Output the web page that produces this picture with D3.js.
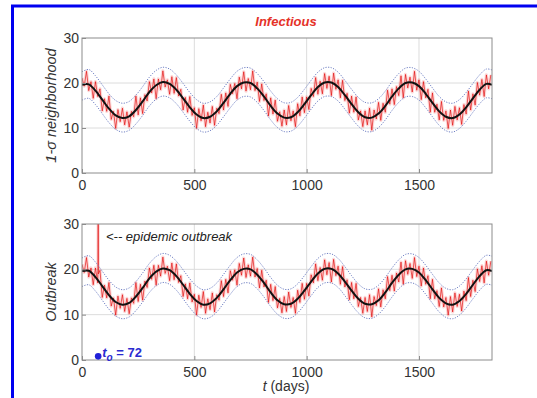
<!DOCTYPE html>
<html><head><meta charset="utf-8">
<script src="https://cdn.jsdelivr.net/npm/d3@7"></script>
<style>
body{margin:0;background:#fff}
svg{display:block}
text{font-family:Arial,"Liberation Sans",Helvetica,sans-serif}
</style>
</head><body>
<svg id="c" width="537" height="398"></svg>
<script>
// ---------- data ----------
const xTicks = [0, 500, 1000, 1500];
const yTicks = [0, 10, 20, 30];
const xMax = 1825;
const yMax = 30;

// noisy simulated infectious count, sampled every 10 days (t = 0..1820)
const redStep = 10;
const redValues = [
21.1,19.3,22.6,18.3,20.3,16.6,20.3,17.0,18.7,13.8,
16.5,13.7,17.1,11.9,13.7,9.9,14.1,11.4,14.4,10.7,
13.6,10.2,13.7,12.5,17.1,12.9,16.7,13.2,17.4,16.0,
20.3,17.8,20.9,16.5,20.9,18.5,22.7,19.1,20.7,17.5,
21.4,17.7,21.2,17.1,18.6,14.0,16.8,13.5,17.0,12.8,
14.5,9.9,14.3,11.6,15.1,10.3,13.5,11.1,14.8,10.6,
14.4,13.2,17.5,14.0,17.8,14.8,19.7,17.6,19.9,16.5,
21.3,18.7,22.5,18.2,21.0,18.5,22.7,18.3,20.2,15.9,
19.8,16.1,17.6,12.7,16.7,13.1,16.2,11.5,13.6,10.4,
14.0,10.7,15.0,11.6,13.8,10.3,15.4,12.7,16.9,13.4,
16.9,14.1,18.8,17.0,21.2,17.5,20.4,17.6,22.1,18.8,
21.5,17.2,22.2,18.6,20.7,16.7,20.6,16.1,17.7,13.3,
17.1,13.5,16.9,11.8,13.8,10.3,13.8,10.7,14.4,9.5,
14.0,12.0,15.7,11.7,15.5,13.5,18.4,15.3,18.7,15.2,
19.2,17.2,21.6,16.7,21.9,18.9,21.3,18.0,22.6,18.4,
20.7,16.3,20.3,16.7,18.6,13.5,17.8,13.5,15.3,11.8,
15.9,11.7,13.8,9.9,14.0,10.6,14.8,11.8,14.5,10.8,
15.2,13.1,18.2,14.0,17.6,15.1,20.1,17.3,20.8,17.0,
21.8,18.7,21.8
];

// mean and 1-sigma band, sampled every 30 days (t = 0..1800) plus t = 1825
const meanDays = d3.range(0, 1801, 30).concat([1825]);
const meanValues = [
19.6,19.7,18.3,16.3,14.3,12.8,12.2,12.6,14.0,15.9,
18.0,19.5,20.2,19.8,18.5,16.6,14.6,13.0,12.2,12.5,
13.7,15.6,17.6,19.3,20.1,20.0,18.8,17.0,14.9,13.2,
12.3,12.4,13.5,15.3,17.3,19.1,20.1,20.1,19.1,17.3,
15.3,13.5,12.4,12.3,13.2,14.9,17.0,18.8,20.0,20.1,
19.3,17.6,15.6,13.7,12.5,12.2,13.0,14.6,16.6,18.5,
19.8,19.6
];
const upperValues = [
22.5,23.0,21.6,19.6,17.6,16.1,15.5,15.9,17.3,19.2,
21.3,22.8,23.5,23.1,21.8,19.9,17.9,16.3,15.5,15.8,
17.0,18.9,20.9,22.6,23.4,23.3,22.1,20.3,18.2,16.5,
15.6,15.7,16.8,18.6,20.6,22.4,23.4,23.4,22.4,20.6,
18.6,16.8,15.7,15.6,16.5,18.2,20.3,22.1,23.3,23.4,
22.6,20.9,18.9,17.0,15.8,15.5,16.3,17.9,19.9,21.8,
23.1,22.9
];
const lowerValues = [
16.2,16.6,15.2,13.2,11.2,9.7,9.1,9.5,10.9,12.8,
14.9,16.4,17.1,16.7,15.4,13.5,11.5,9.9,9.1,9.4,
10.6,12.5,14.5,16.2,17.0,16.9,15.7,13.9,11.8,10.1,
9.2,9.3,10.4,12.2,14.2,16.0,17.0,17.0,16.0,14.2,
12.2,10.4,9.3,9.2,10.1,11.8,13.9,15.7,16.9,17.0,
16.2,14.5,12.5,10.6,9.4,9.1,9.9,11.5,13.5,15.4,
16.7,16.5
];

// outbreak
const outbreakDay = 72;
const outbreakSpike = [[70, 17.0], [71, 20.5], [72, 31], [73, 19.0], [80, 19.8]];
const outbreakMarker = [72, 0.8];

const titleText = "Infectious";
const panelLabels = ["1-\u03c3 neighborhood", "Outbreak"];
const annotationText = "<-- epidemic outbreak";

// ---------- drawing ----------
const svg = d3.select("#c");
svg.append("rect").attr("width", 537).attr("height", 398).attr("fill", "#fff");
svg.append("rect").attr("x", 12.5).attr("y", 6).attr("width", 700).attr("height", 600)
  .attr("fill", "none").attr("stroke", "#0000f0").attr("stroke-width", 3);

const x = d3.scaleLinear().domain([0, xMax]).range([82, 492]);

const redSeries = redValues.map((v, i) => [i * redStep, v]);
const redSeriesOutbreak = redSeries.filter(d => d[0] < 70 || d[0] > 80)
  .concat(outbreakSpike).sort((a, b) => a[0] - b[0]);

const panels = [
  {top: 38, bottom: 173, label: panelLabels[0], red: redSeries, outbreak: false},
  {top: 224, bottom: 360, label: panelLabels[1], red: redSeriesOutbreak, outbreak: true}
];

svg.append("text").attr("x", 286).attr("y", 26).attr("text-anchor", "middle")
  .attr("font-size", 13).attr("font-style", "italic").attr("font-weight", "bold")
  .attr("fill", "#e53228").text(titleText);

panels.forEach((p, pi) => {
  const y = d3.scaleLinear().domain([0, yMax]).range([p.bottom, p.top]);
  const g = svg.append("g");
  const clipId = "clip" + pi;
  svg.append("clipPath").attr("id", clipId).append("rect")
    .attr("x", x(0)).attr("y", y(yMax)).attr("width", x(xMax) - x(0)).attr("height", y(0) - y(yMax));

  // grid
  g.selectAll(".gx").data(xTicks.filter(t => t > 0)).enter().append("line")
    .attr("x1", d => x(d)).attr("x2", d => x(d)).attr("y1", y(0)).attr("y2", y(yMax))
    .attr("stroke", "#dcdcdc").attr("stroke-width", 1);
  g.selectAll(".gy").data(yTicks.filter(t => t > 0 && t < yMax)).enter().append("line")
    .attr("x1", x(0)).attr("x2", x(xMax)).attr("y1", d => y(d)).attr("y2", d => y(d))
    .attr("stroke", "#dcdcdc").attr("stroke-width", 1);

  const plot = g.append("g").attr("clip-path", `url(#${clipId})`);
  const line = d3.line().x(d => x(d[0])).y(d => y(d[1]));

  // noisy red: soft haze + thin spikes
  plot.append("path").datum(p.red).attr("d", line)
    .attr("fill", "none").attr("stroke", "#f04a4a").attr("stroke-width", 3.2).attr("opacity", 0.22)
    .attr("stroke-linejoin", "round");
  plot.append("path").datum(p.red).attr("d", line)
    .attr("fill", "none").attr("stroke", "#e00000").attr("stroke-width", 0.7).attr("opacity", 0.9);

  // bands
  const smooth = d3.line().x(d => x(d[0])).y(d => y(d[1])).curve(d3.curveCatmullRom);
  [upperValues, lowerValues].forEach(arr => {
    plot.append("path").datum(arr.map((v, i) => [meanDays[i], v])).attr("d", smooth)
      .attr("fill", "none").attr("stroke", "#7080c4").attr("stroke-width", 1)
      .attr("stroke-dasharray", "1.2,1.4");
  });
  // mean
  plot.append("path").datum(meanValues.map((v, i) => [meanDays[i], v])).attr("d", smooth)
    .attr("fill", "none").attr("stroke", "#111").attr("stroke-width", 2);

  // frame
  g.append("rect").attr("x", x(0)).attr("y", y(yMax)).attr("width", x(xMax) - x(0))
    .attr("height", y(0) - y(yMax)).attr("fill", "none").attr("stroke", "#8c8c8c").attr("stroke-width", 1);

  // axes
  const ax = g.append("g").attr("transform", `translate(0,${y(0)})`)
    .call(d3.axisBottom(x).tickValues(xTicks).tickSizeInner(-4).tickSizeOuter(0).tickPadding(7).tickFormat(d3.format("d")));
  const ay = g.append("g").attr("transform", `translate(${x(0)},0)`)
    .call(d3.axisLeft(y).tickValues(yTicks).tickSizeInner(-4).tickSizeOuter(0).tickPadding(3).tickFormat(d3.format("d")));
  [ax, ay].forEach(a => {
    a.select(".domain").remove();
    a.selectAll(".tick line").attr("stroke", "#8c8c8c");
    a.selectAll(".tick text").attr("font-size", 14).attr("fill", "#333")
      .attr("font-family", "Arial, 'Liberation Sans', sans-serif");
  });

  // y label
  svg.append("text").attr("transform", `translate(56,${(p.top + p.bottom) / 2}) rotate(-90)`)
    .attr("text-anchor", "middle").attr("font-size", 14.5).attr("font-style", "italic")
    .attr("fill", "#333").text(p.label);

  if (p.outbreak) {
    svg.append("text").attr("x", 106).attr("y", y(26.2)).attr("font-size", 13)
      .attr("font-style", "italic").attr("fill", "#222").text(annotationText);
    svg.append("circle").attr("cx", x(outbreakMarker[0])).attr("cy", y(outbreakMarker[1]))
      .attr("r", 3.3).attr("fill", "#2020d8");
    const t = svg.append("text").attr("x", x(outbreakMarker[0]) + 4).attr("y", y(outbreakMarker[1]) + 1)
      .attr("font-size", 13).attr("font-weight", "bold").attr("fill", "#2a2ad0");
    t.append("tspan").attr("font-style", "italic").text("t");
    t.append("tspan").attr("font-style", "italic").attr("font-size", 10).attr("dy", 4).text("o");
    t.append("tspan").attr("dy", -4).text(" = " + outbreakDay);
  }
});

// x label
const xl = svg.append("text").attr("x", 286).attr("y", 391).attr("text-anchor", "middle")
  .attr("font-size", 14).attr("fill", "#333");
xl.append("tspan").attr("font-style", "italic").text("t");
xl.append("tspan").text(" (days)");
</script>
</body></html>
